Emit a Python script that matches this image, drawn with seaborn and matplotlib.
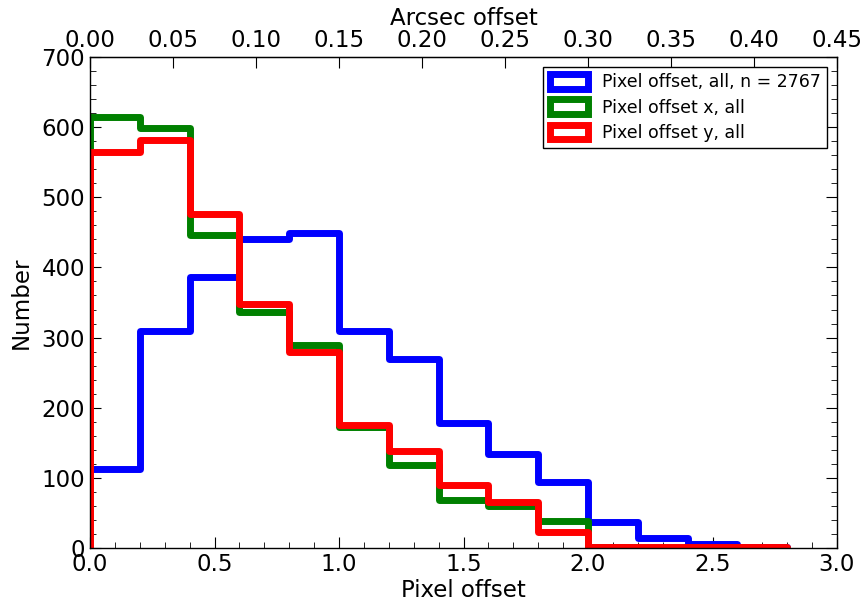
import numpy as np
import pandas as pd
import matplotlib
matplotlib.use("Agg")
import matplotlib.pyplot as plt
import seaborn as sns
from matplotlib.patches import Patch
from matplotlib.ticker import MultipleLocator

# Data (counts per 0.2-pixel bin; one empty bin before 0)
bin_edges = [-0.2, 0.0, 0.2, 0.4, 0.6, 0.8, 1.0, 1.2, 1.4, 1.6, 1.8, 2.0, 2.2, 2.4, 2.6, 2.8]
counts_all = [0, 113, 309, 386, 440, 449, 309, 269, 178, 134, 94, 37, 14, 6, 2]
counts_x = [0, 614, 599, 446, 336, 289, 172, 118, 68, 60, 38, 1, 0, 0, 0]
counts_y = [0, 565, 582, 476, 348, 279, 175, 138, 90, 66, 23, 1, 1, 1, 1]
labels = ["Pixel offset, all, n = 2767", "Pixel offset x, all", "Pixel offset y, all"]
colors = ["blue", "green", "red"]
arcsec_per_pixel = 0.15

sns.set_style("ticks")
plt.rcParams["font.family"] = ["DejaVu Sans"]
plt.rcParams.update({
    "xtick.direction": "in", "ytick.direction": "in",
    "xtick.major.size": 8, "ytick.major.size": 8,
    "xtick.minor.size": 4, "ytick.minor.size": 4,
    "xtick.top": False, "ytick.right": True,
    "text.color": "black", "axes.labelcolor": "black",
    "xtick.color": "black", "ytick.color": "black",
    "axes.edgecolor": "black",
})

centers = [(a + b) / 2 for a, b in zip(bin_edges[:-1], bin_edges[1:])]
frames = []
for lab, cnt in zip(labels, [counts_all, counts_x, counts_y]):
    frames.append(pd.DataFrame({"offset": centers, "count": cnt, "series": lab}))
df = pd.concat(frames, ignore_index=True)

fig = plt.figure(figsize=(8.66, 6.05), dpi=100)
ax = fig.add_axes([0.104, 0.094, 0.8625, 0.812])

for lab, col in zip(labels, colors):
    sub = df[df["series"] == lab]
    sns.histplot(data=sub, x="offset", weights="count", bins=bin_edges,
                 element="step", fill=False, color=col, linewidth=5, ax=ax)

ax.set_xlim(0, 3.0)
ax.set_ylim(0, 700)
ax.xaxis.set_major_locator(MultipleLocator(0.5))
ax.xaxis.set_minor_locator(MultipleLocator(0.1))
ax.yaxis.set_major_locator(MultipleLocator(100))
ax.yaxis.set_minor_locator(MultipleLocator(20))
ax.tick_params(which="both", right=True, direction="in", colors="black")
ax.tick_params(labelsize=16.5)
ax.set_xlabel("Pixel offset", fontsize=16.5, labelpad=2)
ax.set_ylabel("Number", fontsize=16.5, labelpad=6)
for s in ax.spines.values():
    s.set_linewidth(1.0)
    s.set_visible(True)

secax = ax.secondary_xaxis("top", functions=(lambda p: p * arcsec_per_pixel,
                                              lambda a: a / arcsec_per_pixel))
secax.xaxis.set_major_locator(MultipleLocator(0.05))
secax.tick_params(direction="in", labelsize=16.5, length=8, colors="black")
secax.set_xlabel("Arcsec offset", fontsize=16.5, labelpad=3)

handles = [Patch(facecolor="white", edgecolor=c, linewidth=5) for c in colors]
ax.legend(handles, labels, loc="upper right", fontsize=12.5, frameon=True,
          fancybox=False, edgecolor="black", framealpha=1,
          handlelength=2.2, handleheight=0.9, borderpad=0.35, labelspacing=0.42,
          borderaxespad=0.6)

fig.savefig("out.png", dpi=100)
